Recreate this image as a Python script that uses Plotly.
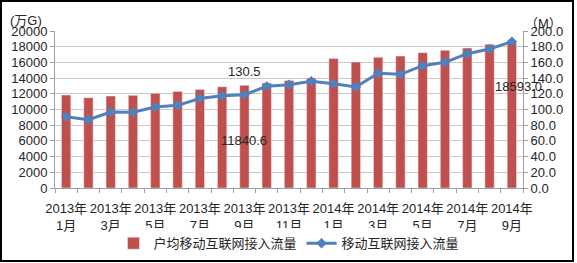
import plotly.graph_objects as go

months = ["2013年<br>1月", "2013年<br>2月", "2013年<br>3月", "2013年<br>4月", "2013年<br>5月",
          "2013年<br>6月", "2013年<br>7月", "2013年<br>8月", "2013年<br>9月", "2013年<br>10月",
          "2013年<br>11月", "2013年<br>12月", "2014年<br>1月", "2014年<br>2月", "2014年<br>3月",
          "2014年<br>4月", "2014年<br>5月", "2014年<br>6月", "2014年<br>7月", "2014年<br>8月",
          "2014年<br>9月"]
bar_values = [11840.6, 11500, 11720, 11800, 12060, 12300, 12560, 12900, 13080, 13380,
              13700, 14000, 16500, 16050, 16650, 16800, 17240, 17540, 17830, 18300, 18593.0]
line_values = [90.9, 87.0, 96.8, 96.4, 103.2, 105.3, 114.0, 117.6, 118.9, 129.5,
               131.6, 135.9, 132.9, 128.7, 146.3, 144.8, 155.8, 160.1, 171.1, 177.1, 186.5]
bar_name = "户均移动互联网接入流量"
line_name = "移动互联网接入流量"

x = list(range(len(months)))
tick_idx = x[::2]
tick_text = [months[i] for i in tick_idx]

FONT = "Liberation Sans, Arial, Noto Sans CJK SC, sans-serif"
TXT = "#262626"

fig = go.Figure()
fig.add_trace(go.Bar(x=x, y=bar_values, name=bar_name, marker_color="#C0504D",
                     width=0.42, yaxis="y"))
fig.add_trace(go.Scatter(x=x, y=line_values, name=line_name, yaxis="y2",
                         mode="lines+markers",
                         line=dict(color="#4F81BD", width=3),
                         marker=dict(symbol="diamond", size=8, color="#4F81BD")))

fig.update_layout(
    width=577, height=263,
    margin=dict(l=55, r=54, t=31, b=75, autoexpand=False),
    paper_bgcolor="white", plot_bgcolor="white",
    font=dict(family=FONT, size=13, color=TXT),
    showlegend=True,
    legend=dict(orientation="h", x=0.5, xanchor="center", y=-0.352, yanchor="middle",
                font=dict(size=13, color=TXT), itemwidth=30, tracegroupgap=0),
    xaxis=dict(range=[-0.5, len(months) - 0.5], tickmode="array", tickvals=tick_idx,
               ticktext=tick_text, ticks="", showgrid=False, showline=True,
               linecolor="#A0A0A0", linewidth=1, zeroline=False, tickangle=0,
               automargin=False, ticklabelstandoff=8,
               tickfont=dict(size=13, color=TXT),
               minor=dict(tick0=-0.5, dtick=1, ticks="outside", ticklen=4,
                          tickcolor="#A0A0A0", showgrid=False)),
    yaxis=dict(range=[0, 20000], dtick=2000, tickformat="d", showgrid=True,
               gridcolor="#C8C8C8", automargin=False,
               gridwidth=1, showline=True, linecolor="#A0A0A0", ticks="outside",
               ticklen=4, tickcolor="#A0A0A0", zeroline=False,
               tickfont=dict(size=13, color=TXT)),
    yaxis2=dict(range=[0, 200], dtick=20, overlaying="y", side="right",
                showgrid=False, showline=True, linecolor="#A0A0A0", ticks="outside",
                ticklen=4, tickcolor="#A0A0A0", tickformat=".1f", zeroline=False,
                automargin=False, tickfont=dict(size=13, color=TXT)),
)

ann = [
    dict(x=8, y=148, yref="y2", text="130.5"),
    dict(x=8, y=5990, yref="y", text="11840.6"),
    dict(x=20.3, y=128.7, yref="y2", text="18593.0"),
    dict(x=20, y=203.8, yref="y2", text="186.5"),
]
for a in ann:
    fig.add_annotation(x=a["x"], y=a["y"], xref="x", yref=a["yref"], text=a["text"],
                       showarrow=False, font=dict(size=13, color=TXT),
                       xanchor="center", yanchor="middle")

fig.add_annotation(x=(26 - 55) / 468, y=(188 - 20) / 157, xref="paper", yref="paper",
                   text="(万G)", showarrow=False, font=dict(size=13, color=TXT),
                   xanchor="center", yanchor="middle")
fig.add_annotation(x=(543 - 55) / 468, y=(188 - 23) / 157, xref="paper", yref="paper",
                   text="（M）", showarrow=False, font=dict(size=13, color=TXT),
                   xanchor="center", yanchor="middle")

# outer frame
fig.add_shape(type="rect", xref="paper", yref="paper",
              x0=(1 - 55) / 468, x1=(573 - 55) / 468,
              y0=(188 - 261) / 157, y1=(188 - 1) / 157,
              line=dict(color="#000000", width=2), fillcolor="rgba(0,0,0,0)", layer="above")

fig.write_html("out.html")
